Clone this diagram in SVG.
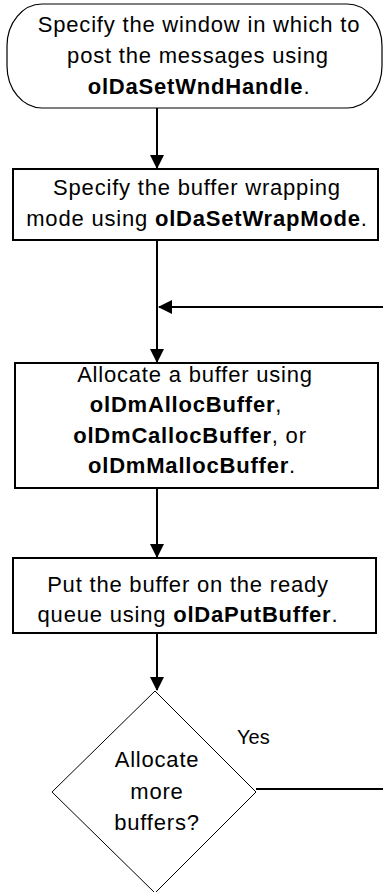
<svg xmlns="http://www.w3.org/2000/svg" width="383" height="892" viewBox="0 0 383 892">
<style>
.t{font-family:"Liberation Sans",Arial,Helvetica,sans-serif;font-size:22px;letter-spacing:0.8px;fill:#000;text-anchor:middle}
.b{font-weight:bold}
.box{fill:#fff;stroke:#000;stroke-width:2}
.thin{fill:#fff;stroke:#000;stroke-width:1.2}
.c{fill:none;stroke:#000;stroke-width:2}
.lbl{font-family:"Liberation Sans",Arial,Helvetica,sans-serif;font-size:20px;fill:#000}
</style>
<defs>
<marker id="ah" viewBox="0 0 14 14" refX="13" refY="7" markerWidth="14" markerHeight="14" markerUnits="userSpaceOnUse" orient="auto">
<path d="M0,0 L14,7 L0,14 z" fill="#000"/>
</marker>
</defs>
<rect width="383" height="892" fill="#fff"/>
<g id="connectors">
<path class="c" d="M157,108 V168" marker-end="url(#ah)"/>
<path class="c" d="M157,240 V362" marker-end="url(#ah)"/>
<path class="c" d="M157,488 V557" marker-end="url(#ah)"/>
<path class="c" d="M157,633 V690" marker-end="url(#ah)"/>
<path class="c" d="M256,789 H392 V307 H159" marker-end="url(#ah)"/>
<text class="lbl" x="237" y="744">Yes</text>
</g>
<g id="start">
<rect class="thin" x="7" y="4" width="375" height="104" rx="35" ry="42"/>
<text class="t" x="199" y="32">Specify the window in which to</text>
<text class="t" x="198" y="63">post the messages using</text>
<text class="t" x="199" y="94"><tspan class="b">olDaSetWndHandle</tspan>.</text>
</g>
<g id="wrap">
<rect class="box" x="13" y="169" width="365" height="71"/>
<text class="t" x="197" y="195">Specify the buffer wrapping</text>
<text class="t" x="197" y="226">mode using <tspan class="b">olDaSetWrapMode</tspan>.</text>
</g>
<g id="alloc">
<rect class="box" x="15" y="363" width="363" height="125"/>
<text class="t" x="195" y="382">Allocate a buffer using</text>
<text class="t" x="186" y="412"><tspan class="b">olDmAllocBuffer</tspan>,</text>
<text class="t" x="190" y="443"><tspan class="b">olDmCallocBuffer</tspan>, or</text>
<text class="t" x="192" y="473"><tspan class="b">olDmMallocBuffer</tspan>.</text>
</g>
<g id="put">
<rect class="box" x="13" y="558" width="363" height="75"/>
<text class="t" x="188" y="592">Put the buffer on the ready</text>
<text class="t" x="188" y="622">queue using <tspan class="b">olDaPutBuffer</tspan>.</text>
</g>
<g id="decision">
<polygon class="thin" points="155,691 256,792 155,893 52,792" style="stroke-width:1"/>
<text class="t" x="157" y="767">Allocate</text>
<text class="t" x="157" y="799">more</text>
<text class="t" x="157" y="830">buffers?</text>
</g>
</svg>
